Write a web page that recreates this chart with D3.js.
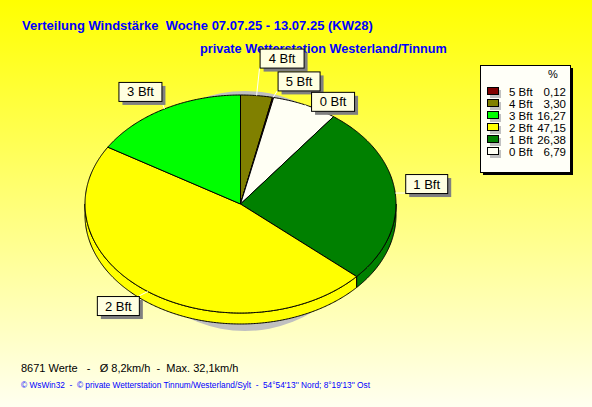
<!DOCTYPE html>
<html><head><meta charset="utf-8">
<script src="https://cdn.jsdelivr.net/npm/d3@7"></script>
<style>html,body{margin:0;padding:0;overflow:hidden;background:#fff}svg{display:block}</style>
</head><body>
<script>
// ---- data ----
const categories = ['5 Bft','4 Bft','3 Bft','2 Bft','1 Bft','0 Bft'];
const percents   = [0.12, 3.30, 16.27, 47.15, 26.38, 6.79];
const colors     = ['#800000','#808000','#00ff00','#ffff00','#008000','#fffff4'];
const pieOrder   = ['4 Bft','5 Bft','0 Bft','1 Bft','2 Bft','3 Bft'];
const titleLine1 = 'Verteilung Windstärke  Woche 07.07.25 - 13.07.25 (KW28)';
const titleLine2 = 'private Wetterstation Westerland/Tinnum';
const statsLine  = '8671 Werte   -   Ø 8,2km/h  -  Max. 32,1km/h';
const creditLine = '© WsWin32  -  © private Wetterstation Tinnum/Westerland/Sylt  -  54°54\'13\'\' Nord; 8°19\'13\'\' Ost';

// ---- layout ----
const W = 592, H = 407;
const geo = {cx: 240.5, cy: 204, rx: 155.5, ry: 109, depth: 11};
const labelLayout = {
  '4 Bft': {dx: 3,   dy: -47, w: 44, corner: 'bl'},
  '5 Bft': {dx: 4.5, dy: -26, w: 42, corner: 'bl'},
  '0 Bft': {dx: 6,   dy: -13, w: 43, corner: 'bl'},
  '1 Bft': {dx: 10,  dy: -19, w: 42, corner: 'bl'},
  '2 Bft': {dx: -51, dy: 4.5, w: 42, corner: 'tr'},
  '3 Bft': {dx: -46, dy: -27, w: 43, corner: 'br'}
};
const font = 'Liberation Sans, Arial, sans-serif';

const svg = d3.select('body').append('svg').attr('width', W).attr('height', H);
const defs = svg.append('defs');
const grad = defs.append('linearGradient').attr('id','bg').attr('x1',0).attr('y1',0).attr('x2',0).attr('y2',1);
grad.append('stop').attr('offset','0%').attr('stop-color','#ffff00');
grad.append('stop').attr('offset','100%').attr('stop-color','#fffff0');
svg.append('rect').attr('width',W).attr('height',H).attr('fill','url(#bg)');

// titles
svg.append('text').attr('x',22).attr('y',30).attr('fill','#0000ff')
  .attr('font-family',font).attr('font-weight','bold').attr('font-size',13)
  .style('white-space','pre').text(titleLine1);
svg.append('text').attr('x',200).attr('y',53).attr('fill','#0000ff')
  .attr('font-family',font).attr('font-weight','bold').attr('font-size',12.7)
  .text(titleLine2);

// pie
const colorOf = d3.scaleOrdinal().domain(categories).range(colors);
const valueOf = new Map(categories.map((c,i)=>[c, percents[i]]));
const pie = d3.pie().sort(null).value(d => valueOf.get(d)).startAngle(0).endAngle(2*Math.PI);
const arcs = pie(pieOrder);
const px = a => geo.cx + geo.rx * Math.sin(a);
const py = a => geo.cy - geo.ry * Math.cos(a);
const sample = (a0, a1) => {
  const n = Math.max(2, Math.ceil(Math.abs(a1 - a0) / 0.01));
  return d3.range(n + 1).map(i => a0 + (a1 - a0) * i / n);
};
const line = d3.line();

const gPie = svg.append('g');
// shadow
gPie.append('ellipse').attr('cx', geo.cx + 4.5).attr('cy', geo.cy + 7).attr('rx', 125).attr('ry', 120).attr('fill', '#c0c0c0');
// sides
arcs.forEach(d => {
  const s = Math.max(d.startAngle, Math.PI/2), e = Math.min(d.endAngle, 3*Math.PI/2);
  if (e <= s) return;
  const top = sample(s, e).map(a => [px(a), py(a)]);
  const bot = sample(e, s).map(a => [px(a), py(a) + geo.depth]);
  gPie.append('path').attr('d', line(top.concat(bot)) + 'Z')
    .attr('fill', colorOf(d.data)).attr('stroke', '#000').attr('stroke-width', 1).attr('stroke-linejoin','round');
});
// tops
arcs.forEach(d => {
  const pts = [[geo.cx, geo.cy]].concat(sample(d.startAngle, d.endAngle).map(a => [px(a), py(a)]));
  gPie.append('path').attr('d', line(pts) + 'Z')
    .attr('fill', colorOf(d.data)).attr('stroke', '#000').attr('stroke-width', 1).attr('stroke-linejoin','round');
});

// labels
const gLab = svg.append('g');
const labH = 19;
arcs.forEach(d => {
  const m = (d.startAngle + d.endAngle) / 2;
  const ax = px(m), ay = py(m);
  const L = labelLayout[d.data];
  const bx = ax + L.dx, by = ay + L.dy;
  const cxr = L.corner[1] === 'l' ? bx : bx + L.w;
  const cyr = L.corner[0] === 't' ? by : by + labH;
  gLab.append('line').attr('x1', ax).attr('y1', ay).attr('x2', cxr).attr('y2', cyr)
    .attr('stroke', '#ffffff').attr('stroke-width', 1);
  gLab.append('rect').attr('x', bx + 4).attr('y', by + 4).attr('width', L.w).attr('height', labH).attr('fill', '#808080');
  gLab.append('rect').attr('x', bx + 0.5).attr('y', by + 0.5).attr('width', L.w).attr('height', labH)
    .attr('fill', '#ffffe1').attr('stroke', '#000').attr('stroke-width', 1);
  gLab.append('text').attr('x', bx + L.w/2 + 0.5).attr('y', by + 14.5).attr('text-anchor','middle')
    .attr('font-family',font).attr('font-size', 13).attr('fill','#000')
    .text(d.data);
});

// legend
const lg = svg.append('g');
const lx = 480, ly = 65, lw = 90, lh = 107;
lg.append('rect').attr('x', lx + 3).attr('y', ly + 3).attr('width', lw).attr('height', lh).attr('fill', '#000');
lg.append('rect').attr('x', lx + 0.5).attr('y', ly + 0.5).attr('width', lw).attr('height', lh)
  .attr('fill', '#fffff8').attr('stroke', '#000');
lg.append('text').attr('x', 553).attr('y', 78).attr('text-anchor','middle').attr('font-family', font).attr('font-size', 11).text('%');
const rowY = d3.scalePoint().domain(categories).range([96, 156]);
const fmt = v => d3.format('.2f')(v).replace('.', ',');
categories.forEach((c, i) => {
  const y = rowY(c);
  lg.append('rect').attr('x', 490).attr('y', y - 6).attr('width', 11).attr('height', 8).attr('fill', '#c0c0c0');
  lg.append('rect').attr('x', 487.5).attr('y', y - 8.5).attr('width', 11).attr('height', 7)
    .attr('fill', colorOf(c)).attr('stroke', '#000');
  lg.append('text').attr('x', 509).attr('y', y).attr('font-family', font).attr('font-size', 11.5).text(c);
  lg.append('text').attr('x', 566).attr('y', y).attr('text-anchor','end').attr('font-family', font).attr('font-size', 11.5).text(fmt(percents[i]));
});

// bottom texts
svg.append('text').attr('x', 21).attr('y', 372).attr('font-family', font).attr('font-size', 11)
  .style('white-space','pre').attr('fill','#000').text(statsLine);
svg.append('text').attr('x', 21).attr('y', 388).attr('font-family', font).attr('font-size', 8.3)
  .style('white-space','pre').attr('fill','#0000ff').text(creditLine);
</script>
</body></html>
